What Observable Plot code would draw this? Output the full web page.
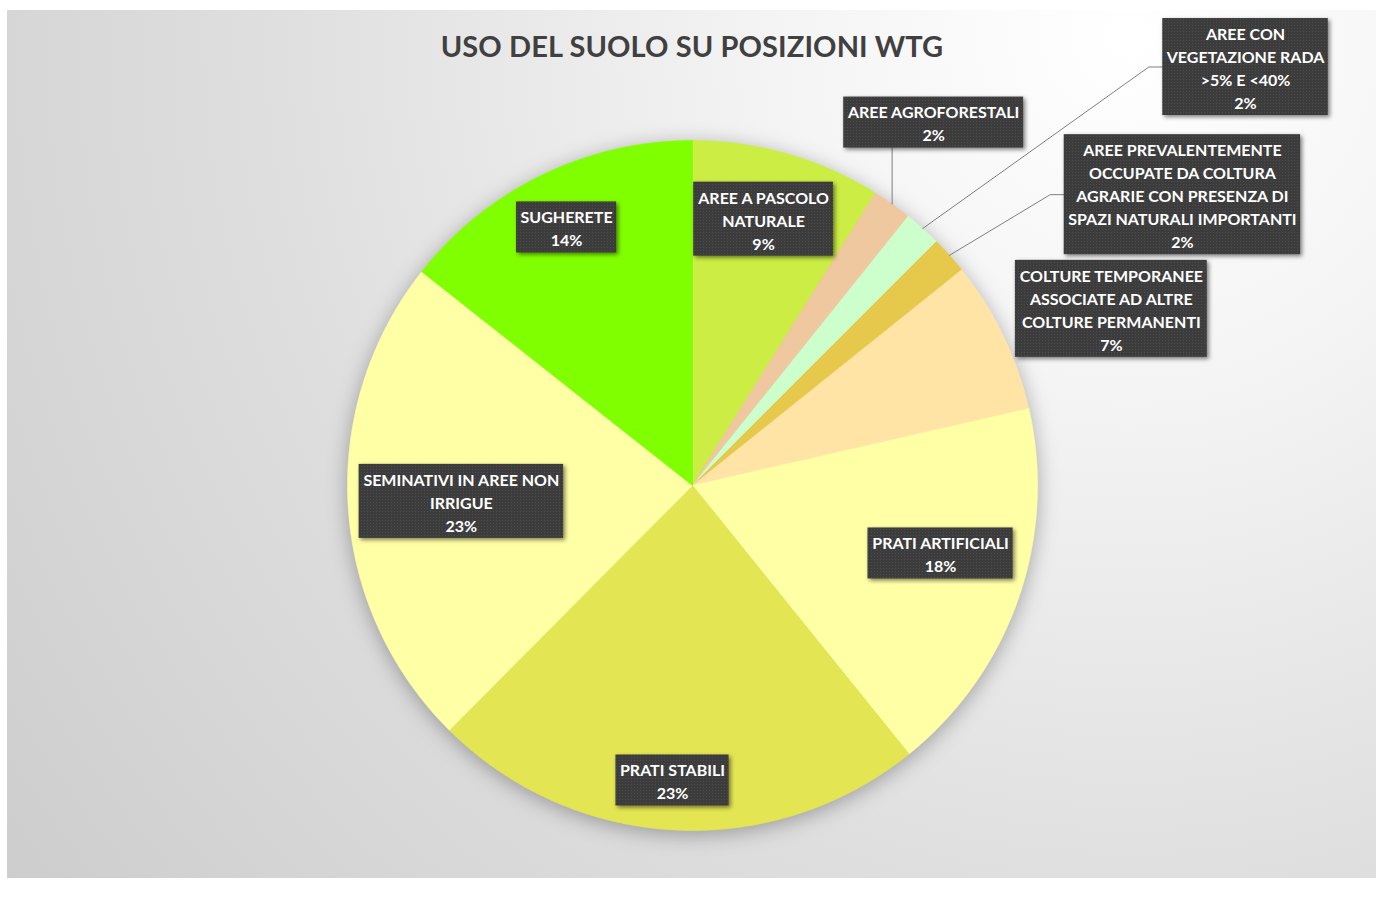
<!DOCTYPE html>
<html><head><meta charset="utf-8">
<script src="https://cdn.jsdelivr.net/npm/d3@7"></script>
<script src="https://cdn.jsdelivr.net/npm/@observablehq/plot@0.6"></script>
<style>
html,body{margin:0;padding:0;background:#fff;width:1383px;height:897px;overflow:hidden;font-family:Lato,"Open Sans",sans-serif;}
#frame{position:absolute;left:7px;top:10px;width:1369px;height:868px;
  background:radial-gradient(circle farthest-corner at 82% 3%, #ffffff 0%, #f4f4f4 25%, #dedede 62%, #cdcdcd 100%);}
#title{position:absolute;left:0;top:29px;width:1384px;text-align:center;font-weight:bold;font-size:29px;line-height:34px;color:#404040;font-family:Lato,sans-serif;letter-spacing:0.1px;}
#chart{position:absolute;left:0;top:0;}
</style></head>
<body>
<svg width="0" height="0" style="position:absolute"><defs>
<pattern id="dots" width="3" height="3" patternUnits="userSpaceOnUse">
<rect width="3" height="3" fill="#3c3c3c"/><rect x="1" y="1" width="1" height="1" fill="#4d4d4d"/>
</pattern></defs></svg>
<div id="frame"></div>
<div id="title">USO DEL SUOLO SU POSIZIONI WTG</div>
<div id="chart"></div>
<script>
// ---- data ----
const categories = [
  "AREE A PASCOLO NATURALE",
  "AREE AGROFORESTALI",
  "AREE CON VEGETAZIONE RADA >5% E <40%",
  "AREE PREVALENTEMENTE OCCUPATE DA COLTURA AGRARIE CON PRESENZA DI SPAZI NATURALI IMPORTANTI",
  "COLTURE TEMPORANEE ASSOCIATE AD ALTRE COLTURE PERMANENTI",
  "PRATI ARTIFICIALI",
  "PRATI STABILI",
  "SEMINATIVI IN AREE NON IRRIGUE",
  "SUGHERETE"
];
const values = [8.89, 1.86, 1.75, 1.75, 7.17, 17.78, 23.25, 23.19, 14.36];
const labelLines = [
  ["AREE A PASCOLO", "NATURALE"],
  ["AREE AGROFORESTALI"],
  ["AREE CON", "VEGETAZIONE RADA", ">5% E <40%"],
  ["AREE PREVALENTEMENTE", "OCCUPATE DA COLTURA", "AGRARIE CON PRESENZA DI", "SPAZI NATURALI IMPORTANTI"],
  ["COLTURE TEMPORANEE", "ASSOCIATE AD ALTRE", "COLTURE PERMANENTI"],
  ["PRATI ARTIFICIALI"],
  ["PRATI STABILI"],
  ["SEMINATIVI IN AREE NON", "IRRIGUE"],
  ["SUGHERETE"]
];
const colors = ["#CCEE44", "#F0C8A0", "#CCFFCC", "#E6C84B", "#FFE4A6", "#FFFFA6", "#E3E553", "#FFFFA6", "#80FF00"];

// ---- layout (label anchors in pie-radius units, leader style) ----
const labelPos = [[0.206, 0.772], [0.699, 1.052], [1.603, 1.213], [1.420, 0.843], [1.214, 0.512],
                  [0.719, -0.197], [-0.058, -0.855], [-0.670, -0.046], [-0.365, 0.748]];
const leaderType = [null, "below", "left", "left", null, null, null, null, null];
const R = 345, CX = 692, CY = 485;
const FONT = "bold 16px Lato", LINE = 23, PADX = 4, PADY = 5;

// ---- build ----
const total = d3.sum(values);
const arcs = d3.pie().sort(null).value(d => d)(values);
const slicePts = [];
arcs.forEach((a, i) => {
  const n = Math.max(4, Math.ceil((a.endAngle - a.startAngle) / 0.004));
  slicePts.push({name: categories[i], x: 0, y: 0});
  for (let k = 0; k <= n; k++) {
    const t = a.startAngle + (a.endAngle - a.startAngle) * k / n;
    slicePts.push({name: categories[i], x: Math.sin(t), y: Math.cos(t)});
  }
  slicePts.push({name: categories[i], x: 0, y: 0});
});

const ctx = document.createElement("canvas").getContext("2d");
ctx.font = FONT;
const labels = categories.map((c, i) => {
  const lines = [...labelLines[i], Math.round(values[i] / total * 100) + "%"];
  const w = d3.max(lines, l => ctx.measureText(l).width) + 2 * PADX;
  const h = lines.length * LINE + PADY;
  const [x, y] = labelPos[i];
  return {name: c, text: lines.join("\n"), x, y,
    x1: x - w / 2 / R, x2: x + w / 2 / R, y1: y - h / 2 / R, y2: y + h / 2 / R};
});

const leaderPts = [];
labels.forEach((l, i) => {
  const t = leaderType[i];
  if (!t) return;
  const m = (arcs[i].startAngle + arcs[i].endAngle) / 2;
  const rx = Math.sin(m), ry = Math.cos(m);
  if (t === "below") {
    leaderPts.push({name: l.name, x: rx, y: ry}, {name: l.name, x: rx, y: l.y1});
  } else {
    leaderPts.push({name: l.name, x: rx, y: ry},
                   {name: l.name, x: l.x1 - 14 / R, y: l.y},
                   {name: l.name, x: l.x1, y: l.y});
  }
});

const chart = Plot.plot({
  width: 1383, height: 897, margin: 0,
  x: {domain: [-1, 1], range: [CX - R, CX + R], axis: null},
  y: {domain: [-1, 1], range: [CY + R, CY - R], axis: null},
  color: {domain: categories, range: colors},
  style: {background: "transparent", overflow: "visible"},
  marks: [
    Plot.line(slicePts, {x: "x", y: "y", z: "name", fill: "name", stroke: "name", strokeWidth: 0.6, curve: "linear"}),
    Plot.line(leaderPts, {x: "x", y: "y", z: "name", stroke: "#7f7f7f", strokeWidth: 1}),
    Plot.rect(labels, {x1: "x1", x2: "x2", y1: "y1", y2: "y2", fill: "url(#dots)"}),
    Plot.text(labels, {x: "x", y: "y", text: "text", fill: "white", fontSize: 16, fontWeight: "bold",
      fontFamily: "Lato", lineHeight: LINE / 16})
  ]
});
document.getElementById("chart").appendChild(chart);
const lineGs = chart.querySelectorAll('g[aria-label="line"]');
if (lineGs[0]) lineGs[0].style.filter = "drop-shadow(0px 4px 10px rgba(0,0,0,0.3))";
const boxG = chart.querySelector('g[aria-label="rect"]');
if (boxG) boxG.style.filter = "drop-shadow(2px 2px 2px rgba(0,0,0,0.5))";
</script>
</body></html>
